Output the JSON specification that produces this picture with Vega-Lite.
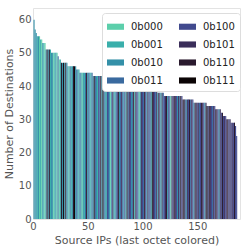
{
  "$schema": "https://vega.github.io/schema/vega-lite/v6.json",
  "width": 207,
  "height": 211,
  "autosize": {"type": "none"},
  "padding": {"left": 33, "top": 8, "right": 9, "bottom": 30},
  "background": "white",
  "config": {
    "view": {"stroke": "#e3e3e3", "strokeWidth": 1},
    "font": "DejaVu Sans",
    "axis": {"domain": false, "ticks": false, "grid": false, "labelColor": "#555555", "titleColor": "#555555", "labelFontSize": 10, "titleFontSize": 11, "titleFontWeight": "normal", "labelPadding": 2}
  },
  "data": {"values": [
{"i":0,"v":60,"c":"0b010"},{"i":1,"v":57,"c":"0b010"},{"i":2,"v":56,"c":"0b010"},{"i":3,"v":55,"c":"0b001"},{"i":4,"v":55,"c":"0b010"},{"i":5,"v":55,"c":"0b000"},{"i":6,"v":54,"c":"0b001"},{"i":7,"v":54,"c":"0b000"},{"i":8,"v":53,"c":"0b010"},{"i":9,"v":53,"c":"0b001"},
{"i":10,"v":53,"c":"0b000"},{"i":11,"v":51,"c":"0b010"},{"i":12,"v":51,"c":"0b110"},{"i":13,"v":51,"c":"0b010"},{"i":14,"v":51,"c":"0b110"},{"i":15,"v":51,"c":"0b001"},{"i":16,"v":50,"c":"0b010"},{"i":17,"v":50,"c":"0b010"},{"i":18,"v":50,"c":"0b000"},{"i":19,"v":50,"c":"0b001"},
{"i":20,"v":50,"c":"0b010"},{"i":21,"v":50,"c":"0b000"},{"i":22,"v":49,"c":"0b011"},{"i":23,"v":48,"c":"0b000"},{"i":24,"v":48,"c":"0b001"},{"i":25,"v":47,"c":"0b110"},{"i":26,"v":47,"c":"0b010"},{"i":27,"v":47,"c":"0b111"},{"i":28,"v":47,"c":"0b010"},{"i":29,"v":47,"c":"0b110"},
{"i":30,"v":47,"c":"0b010"},{"i":31,"v":46,"c":"0b010"},{"i":32,"v":46,"c":"0b000"},{"i":33,"v":46,"c":"0b011"},{"i":34,"v":46,"c":"0b001"},{"i":35,"v":46,"c":"0b010"},{"i":36,"v":46,"c":"0b110"},{"i":37,"v":46,"c":"0b111"},{"i":38,"v":46,"c":"0b010"},{"i":39,"v":45,"c":"0b011"},
{"i":40,"v":45,"c":"0b010"},{"i":41,"v":45,"c":"0b001"},{"i":42,"v":44,"c":"0b011"},{"i":43,"v":44,"c":"0b010"},{"i":44,"v":44,"c":"0b000"},{"i":45,"v":44,"c":"0b010"},{"i":46,"v":44,"c":"0b001"},{"i":47,"v":44,"c":"0b011"},{"i":48,"v":44,"c":"0b110"},{"i":49,"v":44,"c":"0b010"},
{"i":50,"v":44,"c":"0b011"},{"i":51,"v":44,"c":"0b010"},{"i":52,"v":44,"c":"0b001"},{"i":53,"v":44,"c":"0b011"},{"i":54,"v":43,"c":"0b010"},{"i":55,"v":43,"c":"0b110"},{"i":56,"v":43,"c":"0b011"},{"i":57,"v":43,"c":"0b010"},{"i":58,"v":43,"c":"0b001"},{"i":59,"v":43,"c":"0b100"},
{"i":60,"v":43,"c":"0b011"},{"i":61,"v":43,"c":"0b110"},{"i":62,"v":43,"c":"0b010"},{"i":63,"v":43,"c":"0b111"},{"i":64,"v":42,"c":"0b011"},{"i":65,"v":42,"c":"0b010"},{"i":66,"v":42,"c":"0b001"},{"i":67,"v":42,"c":"0b100"},{"i":68,"v":42,"c":"0b011"},{"i":69,"v":42,"c":"0b010"},
{"i":70,"v":42,"c":"0b000"},{"i":71,"v":42,"c":"0b011"},{"i":72,"v":42,"c":"0b101"},{"i":73,"v":42,"c":"0b010"},{"i":74,"v":41,"c":"0b001"},{"i":75,"v":41,"c":"0b011"},{"i":76,"v":41,"c":"0b100"},{"i":77,"v":41,"c":"0b110"},{"i":78,"v":41,"c":"0b010"},{"i":79,"v":41,"c":"0b011"},
{"i":80,"v":41,"c":"0b101"},{"i":81,"v":41,"c":"0b011"},{"i":82,"v":41,"c":"0b010"},{"i":83,"v":41,"c":"0b100"},{"i":84,"v":41,"c":"0b001"},{"i":85,"v":40,"c":"0b110"},{"i":86,"v":40,"c":"0b011"},{"i":87,"v":40,"c":"0b101"},{"i":88,"v":40,"c":"0b100"},{"i":89,"v":40,"c":"0b010"},
{"i":90,"v":40,"c":"0b011"},{"i":91,"v":40,"c":"0b110"},{"i":92,"v":40,"c":"0b001"},{"i":93,"v":40,"c":"0b101"},{"i":94,"v":40,"c":"0b100"},{"i":95,"v":40,"c":"0b011"},{"i":96,"v":40,"c":"0b000"},{"i":97,"v":40,"c":"0b010"},{"i":98,"v":40,"c":"0b101"},{"i":99,"v":40,"c":"0b100"},
{"i":100,"v":40,"c":"0b011"},{"i":101,"v":39,"c":"0b110"},{"i":102,"v":39,"c":"0b100"},{"i":103,"v":39,"c":"0b010"},{"i":104,"v":39,"c":"0b101"},{"i":105,"v":39,"c":"0b011"},{"i":106,"v":39,"c":"0b100"},{"i":107,"v":39,"c":"0b001"},{"i":108,"v":39,"c":"0b110"},{"i":109,"v":39,"c":"0b101"},
{"i":110,"v":39,"c":"0b100"},{"i":111,"v":39,"c":"0b011"},{"i":112,"v":39,"c":"0b101"},{"i":113,"v":38,"c":"0b010"},{"i":114,"v":38,"c":"0b110"},{"i":115,"v":38,"c":"0b100"},{"i":116,"v":38,"c":"0b001"},{"i":117,"v":38,"c":"0b101"},{"i":118,"v":38,"c":"0b011"},{"i":119,"v":37,"c":"0b100"},
{"i":120,"v":37,"c":"0b101"},{"i":121,"v":37,"c":"0b110"},{"i":122,"v":37,"c":"0b010"},{"i":123,"v":37,"c":"0b100"},{"i":124,"v":37,"c":"0b011"},{"i":125,"v":37,"c":"0b000"},{"i":126,"v":37,"c":"0b101"},{"i":127,"v":37,"c":"0b100"},{"i":128,"v":37,"c":"0b110"},{"i":129,"v":37,"c":"0b101"},
{"i":130,"v":37,"c":"0b100"},{"i":131,"v":37,"c":"0b010"},{"i":132,"v":37,"c":"0b101"},{"i":133,"v":37,"c":"0b011"},{"i":134,"v":37,"c":"0b110"},{"i":135,"v":37,"c":"0b100"},{"i":136,"v":36,"c":"0b101"},{"i":137,"v":36,"c":"0b111"},{"i":138,"v":36,"c":"0b100"},{"i":139,"v":36,"c":"0b010"},
{"i":140,"v":36,"c":"0b101"},{"i":141,"v":36,"c":"0b100"},{"i":142,"v":36,"c":"0b110"},{"i":143,"v":36,"c":"0b011"},{"i":144,"v":36,"c":"0b101"},{"i":145,"v":36,"c":"0b100"},{"i":146,"v":35,"c":"0b010"},{"i":147,"v":35,"c":"0b101"},{"i":148,"v":35,"c":"0b110"},{"i":149,"v":35,"c":"0b100"},
{"i":150,"v":35,"c":"0b101"},{"i":151,"v":35,"c":"0b011"},{"i":152,"v":35,"c":"0b100"},{"i":153,"v":35,"c":"0b110"},{"i":154,"v":35,"c":"0b101"},{"i":155,"v":35,"c":"0b100"},{"i":156,"v":35,"c":"0b010"},{"i":157,"v":35,"c":"0b101"},{"i":158,"v":34,"c":"0b111"},{"i":159,"v":34,"c":"0b100"},
{"i":160,"v":34,"c":"0b110"},{"i":161,"v":34,"c":"0b101"},{"i":162,"v":34,"c":"0b100"},{"i":163,"v":34,"c":"0b011"},{"i":164,"v":34,"c":"0b101"},{"i":165,"v":34,"c":"0b100"},{"i":166,"v":33,"c":"0b110"},{"i":167,"v":33,"c":"0b101"},{"i":168,"v":33,"c":"0b100"},{"i":169,"v":33,"c":"0b010"},
{"i":170,"v":33,"c":"0b101"},{"i":171,"v":32,"c":"0b100"},{"i":172,"v":32,"c":"0b110"},{"i":173,"v":31,"c":"0b100"},{"i":174,"v":31,"c":"0b101"},{"i":175,"v":31,"c":"0b100"},{"i":176,"v":30,"c":"0b101"},{"i":177,"v":30,"c":"0b110"},{"i":178,"v":30,"c":"0b100"},{"i":179,"v":30,"c":"0b101"},
{"i":180,"v":29,"c":"0b100"},{"i":181,"v":29,"c":"0b101"},{"i":182,"v":29,"c":"0b100"},{"i":183,"v":29,"c":"0b110"},{"i":184,"v":28,"c":"0b100"},{"i":185,"v":25,"c":"0b100"}
  ]},
  "mark": {"type": "bar", "binSpacing": 0, "strokeWidth": 0},
  "encoding": {
    "x": {"field": "i", "type": "quantitative", "bin": {"step": 1, "extent": [0, 189]},
          "scale": {"domain": [0, 189], "nice": false, "zero": false},
          "axis": {"values": [0, 50, 100, 150], "title": "Source IPs (last octet colored)", "format": "d", "labelFlush": false, "titlePadding": 3}},
    "y": {"field": "v", "type": "quantitative",
          "scale": {"domain": [0, 63.5], "nice": false},
          "axis": {"values": [0, 10, 20, 30, 40, 50, 60], "title": "Number of Destinations", "titlePadding": 4}},
    "color": {"field": "c", "type": "nominal",
      "scale": {"domain": ["0b000", "0b001", "0b010", "0b011", "0b100", "0b101", "0b110", "0b111"],
                "range": ["#5ccfab", "#3aafab", "#3490a8", "#3a6a9f", "#414a8e", "#3b2e5a", "#2a1a2e", "#0b0405"]},
      "legend": {"title": null, "orient": "none", "legendX": 69, "legendY": 5, "columns": 2, "columnPadding": 16, "rowPadding": 4,
                 "symbolType": "M-1,-0.36H1V0.36H-1Z", "symbolSize": 289, "symbolStrokeWidth": 0, "symbolOpacity": 1,
                 "labelFontSize": 10, "labelColor": "#222222", "labelOffset": 7,
                 "fillColor": "white", "strokeColor": "#dddddd", "padding": 5, "cornerRadius": 3}}
  }
}
